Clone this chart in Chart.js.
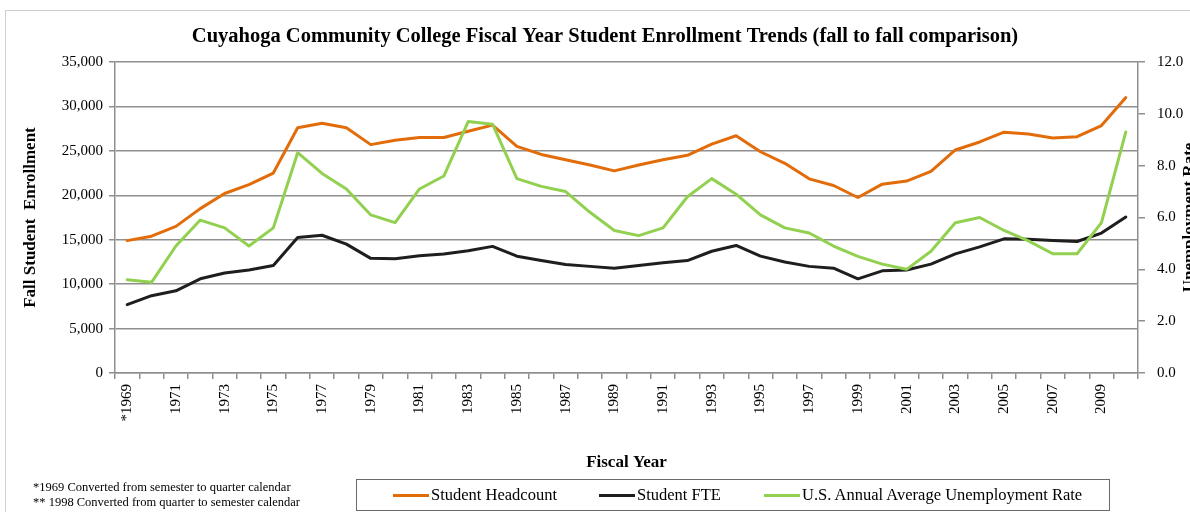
<!DOCTYPE html>
<html>
<head>
<meta charset="utf-8">
<script src="https://cdn.jsdelivr.net/npm/chart.js@4.4.1/dist/chart.umd.min.js"></script>
<style>
  html, body { margin:0; padding:0; background:#fff; overflow:hidden; width:1190px; height:512px; }
  #frame { position:absolute; left:5px; top:10px; width:1200px; height:520px; border:1px solid #cfcfcf; }
  #wrap { position:absolute; left:0; top:0; width:1200px; height:512px; }
  #legend { position:absolute; left:356px; top:479px; width:752px; height:30px; border:1px solid #6a6a6a; background:#fff;
            font:16.5px "Liberation Serif", serif; color:#000; }
  #legend .item { position:absolute; top:0; height:30px; display:flex; align-items:center; white-space:nowrap; }
  #legend .swatch { display:inline-block; width:36px; height:3px; margin-right:2px; }
  .foot { position:absolute; left:33px; font:12.5px "Liberation Serif", serif; color:#000; white-space:nowrap; }
</style>
</head>
<body>
<div id="frame"></div>
<div id="wrap"><canvas id="c"></canvas></div>
<div id="legend"></div>
<div class="foot" style="top:480px">*1969 Converted from semester to quarter calendar</div>
<div class="foot" style="top:495px">** 1998 Converted from quarter to semester calendar</div>
<script>
// ---------- data ----------
const years = ['*1969','1970','1971','1972','1973','1974','1975','1976','1977','1978',
  '1979','1980','1981','1982','1983','1984','1985','1986','1987','1988',
  '1989','1990','1991','1992','1993','1994','1995','1996','1997','1998',
  '1999','2000','2001','2002','2003','2004','2005','2006','2007','2008',
  '2009','2010'];
const headcount = [14900,15400,16500,18500,20200,21200,22500,27600,28100,27600,
  25700,26200,26500,26500,27200,27900,25500,24600,24000,23400,
  22750,23400,24000,24500,25750,26700,24900,23600,21850,21100,
  19750,21250,21600,22700,25100,26000,27100,26900,26450,26600,
  27850,31000];
const fte = [7700,8700,9250,10600,11250,11600,12100,15250,15500,14500,
  12900,12850,13200,13400,13750,14250,13150,12650,12200,12000,
  11800,12100,12400,12650,13700,14350,13150,12500,12000,11800,
  10600,11500,11600,12250,13400,14200,15100,15050,14900,14800,
  15750,17550];
const unemployment = [3.6,3.5,4.9,5.9,5.6,4.9,5.6,8.5,7.7,7.1,
  6.1,5.8,7.1,7.6,9.7,9.6,7.5,7.2,7.0,6.2,
  5.5,5.3,5.6,6.8,7.5,6.9,6.1,5.6,5.4,4.9,
  4.5,4.2,4.0,4.7,5.8,6.0,5.5,5.1,4.6,4.6,
  5.8,9.3];
const seriesNames = ['Student Headcount','Student FTE','U.S. Annual Average  Unemployment Rate'];
const chartTitle = 'Cuyahoga Community College Fiscal Year Student Enrollment Trends (fall to fall comparison)';
const leftTitle = 'Fall Student  Enrollment';
const rightTitle = 'Unemployment Rate';
const xTitle = 'Fiscal Year';
const leftMax = 35000, leftStep = 5000;
const rightMax = 12, rightStep = 2;

// ---------- styles ----------
const FONT = '"Liberation Serif", serif';
const colors = ['#E36C0A', '#1E1E1E', '#92D050'];
const gridColor = '#8f8f8f';
const legendX = [36, 242, 407];

const extraText = {
  id: 'extraText',
  afterDraw(chart) {
    const ctx = chart.ctx;
    const a = chart.chartArea;
    ctx.save();
    ctx.fillStyle = '#000';
    ctx.textAlign = 'center';
    ctx.textBaseline = 'middle';
    ctx.font = 'bold 20.5px ' + FONT;
    ctx.fillText(chartTitle, 605, 37);
    ctx.translate(1190, (a.top + a.bottom) / 2);
    ctx.rotate(-Math.PI / 2);
    ctx.font = 'bold 17px ' + FONT;
    ctx.fillText(rightTitle, 0, 0);
    ctx.restore();
  }
};

const chart = new Chart(document.getElementById('c'), {
  type: 'line',
  data: {
    labels: years,
    datasets: [
      { label: seriesNames[0], data: headcount, yAxisID: 'y', borderColor: colors[0], backgroundColor: colors[0], order: 2 },
      { label: seriesNames[1], data: fte, yAxisID: 'y', borderColor: colors[1], backgroundColor: colors[1], order: 1 },
      { label: seriesNames[2], data: unemployment, yAxisID: 'y1', borderColor: colors[2], backgroundColor: colors[2], order: 0 }
    ]
  },
  options: {
    responsive: true,
    maintainAspectRatio: false,
    animation: false,
    devicePixelRatio: 1,
    layout: { padding: { top: 62, left: 0, right: 0, bottom: 0 } },
    elements: {
      line: { borderWidth: 3, tension: 0, borderJoinStyle: 'round', borderCapStyle: 'round' },
      point: { radius: 0, hoverRadius: 0 }
    },
    plugins: { legend: { display: false }, title: { display: false }, tooltip: { enabled: false } },
    scales: {
      x: {
        type: 'category',
        offset: true,
        grid: { offset: true, drawOnChartArea: false, drawTicks: true, tickLength: 6, color: gridColor, lineWidth: 1.5 },
        border: { color: gridColor, width: 1.5 },
        ticks: {
          autoSkip: false, maxRotation: 90, minRotation: 90, padding: 5,
          font: { family: FONT, size: 15 }, color: '#000',
          callback: (v, i) => (i % 2 === 0 ? years[i] : '')
        },
        title: { display: true, text: xTitle, color: '#000', font: { family: FONT, size: 17, weight: 'bold' }, padding: { top: 0, bottom: 39 } },
        afterFit: s => { s.height = 139; }
      },
      y: {
        position: 'left',
        min: 0, max: leftMax,
        grid: { color: gridColor, lineWidth: 1.5, tickLength: 6 },
        border: { color: gridColor, width: 1.5 },
        ticks: { stepSize: leftStep, padding: 6, color: '#000', font: { family: FONT, size: 15 },
                 callback: v => v.toLocaleString('en-US') },
        title: { display: true, text: leftTitle, color: '#000', font: { family: FONT, size: 17, weight: 'bold' }, padding: { top: 20, bottom: 0 } },
        afterFit: s => { s.width = 115; }
      },
      y1: {
        position: 'right',
        min: 0, max: rightMax,
        grid: { drawOnChartArea: false, color: gridColor, lineWidth: 1.5, tickLength: 7 },
        border: { color: gridColor, width: 1.5 },
        ticks: { stepSize: rightStep, padding: 12, color: '#000', font: { family: FONT, size: 15 },
                 callback: v => Number(v).toFixed(1) },
        afterFit: s => { s.width = 62; }
      }
    }
  },
  plugins: [extraText]
});

// HTML legend built from the chart's datasets
const lg = document.getElementById('legend');
chart.data.datasets.forEach((ds, i) => {
  const it = document.createElement('div');
  it.className = 'item';
  it.style.left = legendX[i] + 'px';
  const sw = document.createElement('span');
  sw.className = 'swatch';
  sw.style.background = ds.borderColor;
  const tx = document.createElement('span');
  tx.textContent = ds.label;
  it.appendChild(sw); it.appendChild(tx);
  lg.appendChild(it);
});
</script>
</body>
</html>
